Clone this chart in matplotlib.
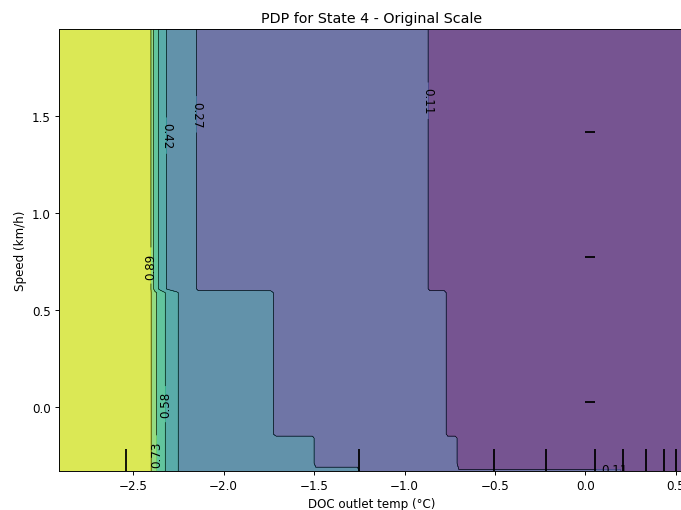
import numpy as np
import matplotlib
matplotlib.use('Agg')
import matplotlib.pyplot as plt

# grid of DOC outlet temp (x) and speed (y) the PDP surface was read on
temp_grid = [-2.91, -2.41, -2.40, -2.38, -2.35, -2.31, -2.26, -2.23, -2.16, -2.14,
             -1.74, -1.71, -1.51, -1.49, -1.26, -1.24, -0.88, -0.86, -0.78, -0.76,
             -0.72, -0.70, 0.19, 0.21, 0.55]
speed_grid = [-0.33, -0.29, -0.16, -0.14, 0.59, 0.61, 1.95]

# partial dependence along temp_grid, one list per speed band
pdp_top = [1.03, 1.03, 0.86, 0.66, 0.53, 0.40, 0.36, 0.35, 0.34, 0.19,
           0.19, 0.19, 0.19, 0.19, 0.19, 0.19, 0.19, 0.03, 0.03, 0.03,
           0.03, 0.03, 0.03, 0.03, 0.03]
pdp_mid = [1.03, 1.03, 0.88, 0.77, 0.66, 0.54, 0.44, 0.38, 0.35, 0.35,
           0.34, 0.19, 0.19, 0.19, 0.19, 0.19, 0.19, 0.19, 0.19, 0.03,
           0.03, 0.03, 0.03, 0.03, 0.03]
pdp_low = [1.03, 1.03, 0.88, 0.77, 0.66, 0.54, 0.44, 0.38, 0.35, 0.35,
           0.34, 0.34, 0.34, 0.19, 0.19, 0.19, 0.19, 0.19, 0.19, 0.19,
           0.19, 0.03, 0.03, 0.03, 0.03]
pdp_bottom = [1.03, 1.03, 0.88, 0.77, 0.66, 0.54, 0.44, 0.38, 0.35, 0.35,
              0.34, 0.34, 0.34, 0.34, 0.34, 0.19, 0.19, 0.19, 0.19, 0.19,
              0.19, 0.13, 0.13, 0.03, 0.03]

levels = [-0.046, 0.11, 0.266, 0.422, 0.578, 0.734, 0.89, 1.046]

temp_deciles = [-2.54, -1.254, -0.503, -0.22, 0.055, 0.208, 0.337, 0.436, 0.503]
speed_deciles = [0.026, 0.772, 1.419]

Z = np.array([pdp_bottom, pdp_low, pdp_low, pdp_mid, pdp_mid, pdp_top, pdp_top])
XX, YY = np.meshgrid(temp_grid, speed_grid)

# original was an 8x6 figure shrunk down to 681x511
dpi = 681 / 8
fig = plt.figure(figsize=(8, 511 / dpi), dpi=dpi)
ax = fig.add_axes([59 / 681, 39 / 511, 626 / 681, 442 / 511])

CS = ax.contour(XX, YY, Z, levels=levels, linewidths=0.5, colors='k')
ax.contourf(XX, YY, Z, levels=levels, vmin=levels[0], vmax=levels[-1],
            alpha=0.75, cmap='viridis')
# label spots picked to sit where the original put them
ax.clabel(CS, fmt='%2.2f', colors='k', fontsize=10, inline=True,
          manual=[(-0.867, 1.58), (-2.15, 1.51), (-2.32, 1.40), (-2.40, 0.73),
                  (-2.33, 0.015), (-2.37, -0.24), (0.16, -0.32)])
# the lower labels read bottom-to-top in the original
for t, rot in zip(CS.labelTexts, [-90, -90, -90, 90, 90, 90, 0]):
    t.set_rotation(rot)

ax.vlines(temp_deciles, 0, 0.05, transform=ax.get_xaxis_transform(), color='k')
ax.hlines(speed_deciles, 0, 0.05, color='k')

ax.set_xlim(temp_grid[0], temp_grid[-1])
ax.set_ylim(speed_grid[0], speed_grid[-1])
ax.set_xlabel('DOC outlet temp (°C)')
ax.set_ylabel('Speed (km/h)')
ax.set_title('PDP for State 4 - Original Scale')

fig.savefig('out.png', dpi=dpi)
